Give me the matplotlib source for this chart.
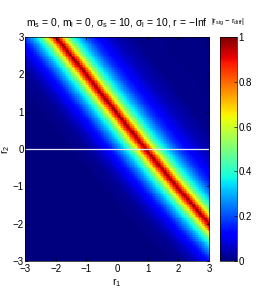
import numpy as np
import matplotlib
matplotlib.use("Agg")
import matplotlib.pyplot as plt

# ---- data ----
# ridge centre: r1 position of the peak for each r2 row
ridge_r2 = [-3.0, -2.0, -1.0, 0.0, 1.0, 2.0, 3.0]
ridge_r1 = [4.1, 3.05, 1.88, 0.9, -0.03, -1.0, -2.0]
# value profile vs horizontal distance from the ridge (left / right side)
prof_d = [0.0, 0.04, 0.15, 0.3, 0.55, 0.8, 1.1, 1.5, 1.9, 2.6, 6.0]
prof_left = [1.0, 0.93, 0.82, 0.62, 0.40, 0.28, 0.16, 0.07, 0.02, 0.0, 0.0]
prof_right = [1.0, 0.93, 0.80, 0.60, 0.40, 0.29, 0.18, 0.10, 0.05, 0.01, 0.0]
cbar_ticks = [0, 0.2, 0.4, 0.6, 0.8, 1]
axis_ticks = [-3, -2, -1, 0, 1, 2, 3]

plt.rcParams['font.family'] = ['Liberation Sans Narrow', 'Liberation Sans', 'DejaVu Sans']
plt.rcParams['mathtext.fontset'] = 'custom'
plt.rcParams['mathtext.rm'] = 'Liberation Sans'
plt.rcParams['mathtext.it'] = 'Liberation Sans'
plt.rcParams['mathtext.bf'] = 'Liberation Sans'

MINUS = '\u2212'

n = 121
r1 = np.linspace(-3, 3, n)
r2 = np.linspace(-3, 3, n)
R1, R2 = np.meshgrid(r1, r2)
coef = np.polyfit(ridge_r2, ridge_r1, 3)
C = np.polyval(coef, R2)
D = R1 - C
Z = np.where(D < 0, np.interp(-D, prof_d, prof_left), np.interp(D, prof_d, prof_right))

W, H = 273, 300
fig = plt.figure(figsize=(W / 100, H / 100), dpi=100)
ax = fig.add_axes([25 / W, 1 - 261 / H, 184 / W, 224 / H])
im = ax.imshow(Z, extent=[-3, 3, -3, 3], origin='lower', aspect='auto',
               cmap='jet', vmin=0, vmax=1, interpolation='nearest')
ax.plot([-3, 3], [0, 0], color='#e8e8f0', lw=0.9)
ax.set_xlim(-3, 3)
ax.set_ylim(-3, 3)
ax.set_xticks(axis_ticks)
ax.set_yticks(axis_ticks)
lbls = [str(t).replace('-', MINUS) for t in axis_ticks]
ax.set_xticklabels(lbls)
ax.set_yticklabels(lbls)
ax.tick_params(labelsize=7, length=2, width=0.5, direction='in',
               top=True, right=True)
ax.tick_params(axis='x', pad=2.5)
ax.tick_params(axis='y', pad=1)
for s in ax.spines.values():
    s.set_linewidth(0.5)
ax.set_xlabel(r'$\mathrm{r}_1$', fontsize=7.5, labelpad=1)
ax.set_ylabel(r'$\mathrm{r}_2$', fontsize=7.5, labelpad=0)
ax.set_title(r'$\mathrm{m_s}$ = 0, $\mathrm{m_l}$ = 0, $\sigma_\mathrm{s}$ = 10, '
             r'$\sigma_\mathrm{l}$ = 10, r = ' + MINUS + 'Inf',
             fontsize=7.5, pad=8)

cax = fig.add_axes([220 / W, 1 - 261 / H, 17 / W, 224 / H])
cb = fig.colorbar(im, cax=cax, ticks=cbar_ticks)
cb.ax.set_yticklabels(['0', '0.2', '0.4', '0.6', '0.8', '1'])
cb.ax.tick_params(labelsize=7, length=2, width=0.5, direction='in', pad=1)
cb.outline.set_linewidth(0.5)
fig.text(228 / W, 1 - 22 / H, r'$|\mathrm{r_{sig}}$ ' + MINUS + r' $\mathrm{r_{diff}}|$',
         fontsize=5.5, ha='center', va='center')

fig.savefig('out.png', dpi=100)
